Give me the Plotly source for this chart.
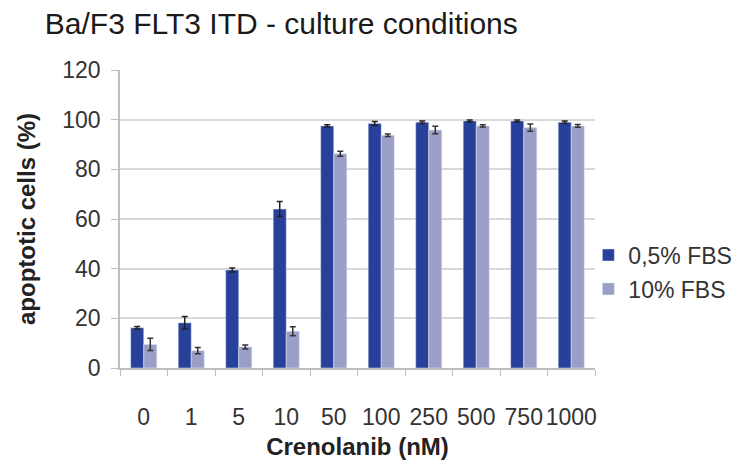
import plotly.graph_objects as go

categories = ["0", "1", "5", "10", "50", "100", "250", "500", "750", "1000"]
fbs_05 = [16.2, 18.2, 39.5, 64.0, 97.5, 98.5, 99.0, 99.5, 99.5, 99.0]
fbs_05_err = [0.5, 2.5, 0.8, 3.0, 0.5, 0.8, 0.5, 0.4, 0.4, 0.5]
fbs_10 = [9.5, 7.0, 8.5, 14.8, 86.3, 93.7, 95.8, 97.5, 96.8, 97.5]
fbs_10_err = [2.5, 1.3, 0.8, 1.8, 1.0, 0.5, 1.5, 0.5, 1.5, 0.6]

dark = "#27409A"
light = "#9B9FC8"
font_family = "Liberation Sans, Arial, sans-serif"

fig = go.Figure()
fig.add_trace(go.Bar(
    x=categories, y=fbs_05, name="0,5% FBS", marker_color=dark,
    error_y=dict(type="data", array=fbs_05_err, color="#222222", thickness=1.5, width=3),
    legendgroup="a",
))
fig.add_trace(go.Bar(
    x=categories, y=fbs_10, name="10% FBS", marker_color=light,
    error_y=dict(type="data", array=fbs_10_err, color="#333333", thickness=1.5, width=3),
    legendgroup="b",
))

fig.update_layout(
    width=735, height=460,
    margin=dict(l=120, r=140, t=70, b=92, autoexpand=False),
    paper_bgcolor="white", plot_bgcolor="white",
    barmode="group", bargap=0.45, bargroupgap=0,
    font=dict(family=font_family, color="#222222"),
    title=dict(text="Ba/F3 FLT3 ITD - culture conditions", x=0.061, xanchor="left",
               y=0.948, yanchor="middle", font=dict(size=30, color="#1a1a1a")),
    legend=dict(x=0.986, xanchor="left", y=0.322, yanchor="middle",
                font=dict(size=23, color="#333333"), tracegroupgap=1,
                itemwidth=30, bgcolor="rgba(0,0,0,0)"),
    xaxis=dict(
        type="category", tickangle=0, tickfont=dict(size=23, color="#333333"),
        showline=True, linecolor="#BFBFBF", linewidth=1.5,
        ticks="outside", tickson="boundaries", ticklen=6, tickcolor="#BFBFBF",
        ticklabelstandoff=28, automargin=False,
        title=dict(text="<b>Crenolanib (nM)</b>", font=dict(size=24, color="#222222"), standoff=12),
    ),
    yaxis=dict(
        range=[0, 120], tickvals=[0, 20, 40, 60, 80, 100, 120],
        tickfont=dict(size=23, color="#333333"),
        showgrid=True, gridcolor="#D9D9D9", gridwidth=1.5,
        showline=True, linecolor="#BFBFBF", linewidth=1.5,
        ticks="outside", ticklen=7, tickcolor="#BFBFBF",
        ticklabelstandoff=6, automargin=False,
        zeroline=False,
        title=dict(text="<b>apoptotic cells (%)</b>", font=dict(size=24, color="#222222"), standoff=20),
    ),
)

fig.write_html("out.html", config={"displayModeBar": False},
               post_script="document.body.style.margin='0';")
